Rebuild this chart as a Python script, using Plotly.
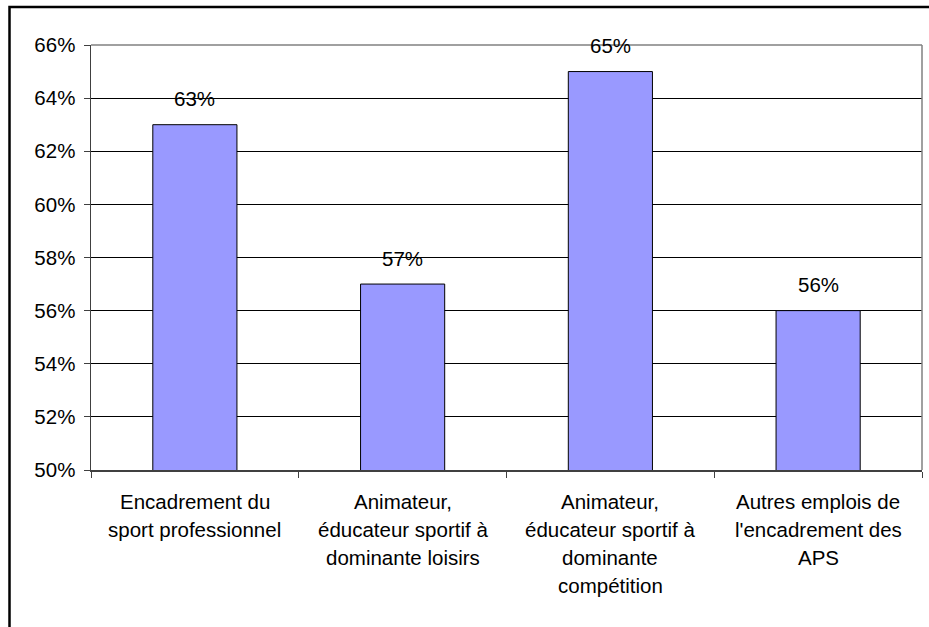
import plotly.graph_objects as go

categories = [
    "Encadrement du sport professionnel",
    "Animateur, éducateur sportif à dominante loisirs",
    "Animateur, éducateur sportif à dominante compétition",
    "Autres emplois de l'encadrement des APS",
]
label_lines = [
    ["Encadrement du", "sport professionnel"],
    ["Animateur,", "éducateur sportif à", "dominante loisirs"],
    ["Animateur,", "éducateur sportif à", "dominante", "compétition"],
    ["Autres emplois de", "l'encadrement des", "APS"],
]
values = [0.63, 0.57, 0.65, 0.56]
y_ticks = [0.50, 0.52, 0.54, 0.56, 0.58, 0.60, 0.62, 0.64, 0.66]

FONT = "Liberation Sans, Arial, sans-serif"
FS = 20.5

fig = go.Figure()
fig.add_trace(go.Bar(
    x=categories, y=values, width=0.405,
    marker=dict(color="#9999FF", line=dict(color="black", width=1)),
    hoverinfo="skip",
))

annotations = []
for c, v in zip(categories, values):
    annotations.append(dict(
        x=c, y=v, xref="x", yref="y", text=f"{round(v*100)}%",
        showarrow=False, yanchor="middle", yshift=26,
        font=dict(family=FONT, size=FS, color="black"),
    ))
for c, lines in zip(categories, label_lines):
    for i, ln in enumerate(lines):
        annotations.append(dict(
            x=c, y=0, xref="x", yref="paper", text=ln,
            showarrow=False, yanchor="middle", yshift=-(31 + 28 * i),
            font=dict(family=FONT, size=FS, color="black"),
        ))

shapes = [
    # plot area top and right borders (gray)
    dict(type="line", xref="paper", yref="paper", x0=0, x1=1, y0=1, y1=1,
         line=dict(color="#808080", width=1.5), layer="above"),
    dict(type="line", xref="paper", yref="paper", x0=1, x1=1, y0=0, y1=1,
         line=dict(color="#808080", width=1.5), layer="above"),
    # outer chart frame (extends past the window on right/bottom)
    dict(type="rect", xref="paper", yref="paper",
         x0=(9.5 - 91) / 831, x1=1.05, y0=(470 - 7) / 425, y1=-0.5,
         line=dict(color="black", width=2.5), layer="above"),
]

fig.update_layout(
    width=929, height=627,
    margin=dict(l=91, r=7, t=45, b=157),
    paper_bgcolor="white", plot_bgcolor="white",
    showlegend=False,
    font=dict(family=FONT, size=FS, color="black"),
    annotations=annotations,
    shapes=shapes,
    bargap=0.5,
)
fig.update_xaxes(
    type="category", tickson="boundaries", ticks="outside", ticklen=6,
    tickcolor="#404040", showticklabels=False, showgrid=False,
    showline=True, linecolor="#404040", linewidth=1.5,
    range=[-0.5, 3.5],
)
fig.update_yaxes(
    range=[0.50, 0.66], tickvals=y_ticks, tickformat=".0%",
    ticks="outside", ticklen=6, tickcolor="#404040",
    showgrid=True, gridcolor="black", gridwidth=1,
    showline=True, linecolor="#404040", linewidth=1.5,
    zeroline=False, ticklabelstandoff=4,
    tickfont=dict(family=FONT, size=FS, color="black"),
)

fig.write_html(
    "out.html",
    config={"displayModeBar": False, "staticPlot": True},
    post_script="document.body.style.margin='0';document.body.style.overflow='hidden';",
)
